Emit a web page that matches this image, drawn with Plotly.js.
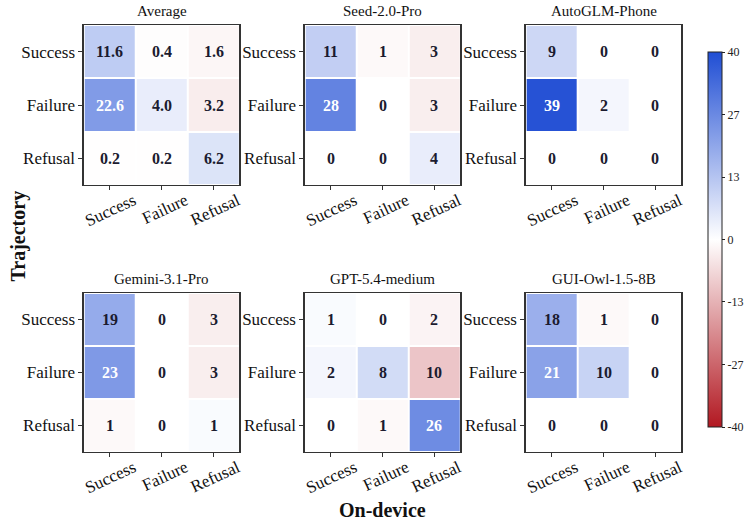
<!DOCTYPE html>
<html>
<head>
<meta charset="utf-8">
<script src="https://cdn.plot.ly/plotly-3.0.1.min.js"></script>
<style>html,body{margin:0;padding:0;background:#fff;}#chart{width:754px;height:525px;}</style>
</head>
<body>
<div id="chart"></div>
<script>
// ---- data ----
const onDeviceLabels = ["Success", "Failure", "Refusal"];
const trajectoryLabels = ["Success", "Failure", "Refusal"];
const modelNames = ["Average", "Seed-2.0-Pro", "AutoGLM-Phone", "Gemini-3.1-Pro", "GPT-5.4-medium", "GUI-Owl-1.5-8B"];
const averageVals = [[11.6, 0.4, 1.6], [22.6, 4.0, 3.2], [0.2, 0.2, 6.2]];
const seedVals = [[11, 1, 3], [28, 0, 3], [0, 0, 4]];
const autoglmVals = [[9, 0, 0], [39, 2, 0], [0, 0, 0]];
const geminiVals = [[19, 0, 3], [23, 0, 3], [1, 0, 1]];
const gptVals = [[1, 0, 2], [2, 8, 10], [0, 1, 26]];
const guiowlVals = [[18, 1, 0], [21, 10, 0], [0, 0, 0]];
// sign of each cell in the diverging colour map (positive = blue, negative = red)
const cellSigns = [[1, -1, -1], [1, 1, -1], [-1, -1, 1]];
const colorbarTickVals = [40, 26.67, 13.33, 0, -13.33, -26.67, -40];
const colorbarTickText = ["40", "27", "13", "0", "-13", "-27", "-40"];

const allVals = [averageVals, seedVals, autoglmVals, geminiVals, gptVals, guiowlVals];
const decimals = [1, 0, 0, 0, 0, 0];

const W = 754, H = 525;
const colsPx = [[86, 246], [313, 473], [540, 700]];
const rowsPx = [[25, 185], [293, 452]];
const serif = "Liberation Serif, Times New Roman, serif";
const scale = [[0, "rgb(178,24,33)"], [0.5, "rgb(255,255,255)"], [1, "rgb(32,78,212)"]];

const data = [];
const layout = {
  width: W, height: H,
  margin: {l: 0, r: 0, t: 0, b: 0},
  paper_bgcolor: "white", plot_bgcolor: "white",
  font: {family: serif, color: "#111"},
  showlegend: false,
  annotations: []
};

allVals.forEach((vals, k) => {
  const r = Math.floor(k / 3), c = k % 3;
  const idx = k + 1;
  const xa = "xaxis" + (idx === 1 ? "" : idx), ya = "yaxis" + (idx === 1 ? "" : idx);
  const xr = "x" + (idx === 1 ? "" : idx), yr = "y" + (idx === 1 ? "" : idx);
  const z = vals.map((row, i) => row.map((v, j) => v * cellSigns[i][j]));
  const trace = {
    type: "heatmap",
    x: onDeviceLabels, y: trajectoryLabels, z: z,
    zmin: -40, zmax: 40, colorscale: scale,
    xgap: 2, ygap: 2,
    xaxis: xr, yaxis: yr,
    hoverinfo: "skip",
    showscale: k === 0
  };
  if (k === 0) {
    trace.colorbar = {
      x: 717 / W, xanchor: "left",
      y: 1 - 239.5 / H, yanchor: "middle",
      len: 395, lenmode: "pixels",
      thickness: 14, thicknessmode: "pixels",
      outlinewidth: 1, outlinecolor: "#222",
      tickmode: "array", tickvals: colorbarTickVals, ticktext: colorbarTickText,
      ticks: "outside", ticklen: 3, tickcolor: "#222",
      tickfont: {family: serif, size: 12, color: "#222"}
    };
  }
  data.push(trace);
  layout[xa] = {
    domain: [colsPx[c][0] / W, colsPx[c][1] / W],
    anchor: yr,
    type: "category",
    showline: true, mirror: true, linecolor: "#333", linewidth: 1.3,
    ticks: "outside", ticklen: 4, tickcolor: "#333",
    tickangle: -25,
    ticklabelshift: 24,
    ticklabelstandoff: -6,
    tickfont: {family: serif, size: 17, color: "#111"},
    showgrid: false, zeroline: false, fixedrange: true
  };
  layout[ya] = {
    domain: [1 - rowsPx[r][1] / H, 1 - rowsPx[r][0] / H],
    anchor: xr,
    type: "category",
    autorange: "reversed",
    showline: true, mirror: true, linecolor: "#333", linewidth: 1.3,
    ticks: "outside", ticklen: 4, tickcolor: "#333",
    tickfont: {family: serif, size: 17, color: "#111"},
    showgrid: false, zeroline: false, fixedrange: true
  };
  // subplot title
  layout.annotations.push({
    text: modelNames[k], xref: "paper", yref: "paper",
    x: (colsPx[c][0] + colsPx[c][1]) / 2 / W, y: 1 - (rowsPx[r][0] - 4) / H,
    xanchor: "center", yanchor: "bottom", showarrow: false,
    font: {family: serif, size: 15, color: "#111"}
  });
  // cell values
  vals.forEach((row, i) => row.forEach((v, j) => {
    layout.annotations.push({
      text: "<b>" + v.toFixed(decimals[k]) + "</b>",
      xref: xr, yref: yr, x: onDeviceLabels[j], y: trajectoryLabels[i],
      showarrow: false,
      font: {family: serif, size: 16, color: Math.abs(v) > 20 ? "#ffffff" : "#1b1b2f"}
    });
  }));
});

layout.annotations.push({
  text: "<b>On-device</b>", xref: "paper", yref: "paper",
  x: 393 / W, y: 1 - 510 / H, xanchor: "center", yanchor: "middle", showarrow: false,
  font: {family: serif, size: 20, color: "#111"}
});
layout.annotations.push({
  text: "<b>Trajectory</b>", xref: "paper", yref: "paper",
  x: 18 / W, y: 1 - 236 / H, xanchor: "center", yanchor: "middle", showarrow: false,
  textangle: -90,
  font: {family: serif, size: 20, color: "#111"}
});

Plotly.newPlot("chart", data, layout, {staticPlot: true, displayModeBar: false});
</script>
</body>
</html>
